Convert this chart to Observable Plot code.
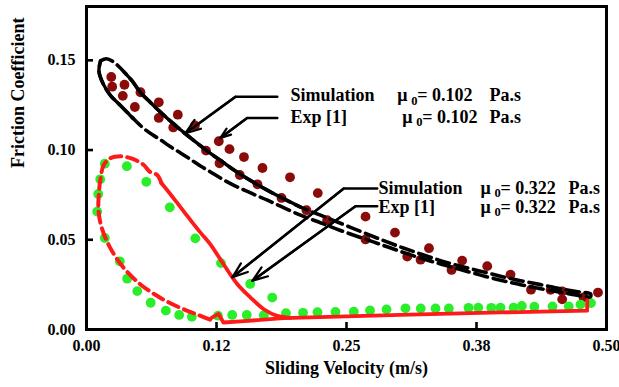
<!DOCTYPE html>
<html><head><meta charset="utf-8">
<script src="https://cdn.jsdelivr.net/npm/d3@7"></script>
<script src="https://cdn.jsdelivr.net/npm/@observablehq/plot@0.6"></script>
<style>body{margin:0;background:#fff}#chart svg{display:block}</style>
</head><body><div id="chart"></div>
<script>
// ---- axes ----
const xTicks = [0, 0.125, 0.25, 0.375, 0.5];
const xTickLabels = ["0.00", "0.12", "0.25", "0.38", "0.50"];
const yTicks = [0, 0.05, 0.10, 0.15];
const yTickLabels = ["0.00", "0.05", "0.10", "0.15"];
const xTitle = "Sliding Velocity (m/s)";
const yTitle = "Friction Coefficient";

// ---- Exp [1], mu0 = 0.102 (dark red dots) ----
const exp102X = [0.0238,0.0247,0.0365,0.0349,0.0519,0.0465,0.0695,0.0695,0.0878,0.0834,0.1042,0.1272,0.1149,0.1375,0.1279,0.1514,0.1692,0.1474,0.1644,0.1957,0.1875,0.2224,0.2115,0.2314,0.2683,0.2683,0.2966,0.3084,0.3212,0.3293,0.3510,0.3612,0.3853,0.4077,0.4274,0.4462,0.4574,0.4574,0.4779,0.4918];
const exp102Y = [0.1407,0.1353,0.1364,0.1302,0.1322,0.1240,0.1266,0.1179,0.1197,0.1126,0.1137,0.1049,0.0997,0.1005,0.0926,0.0961,0.0900,0.0861,0.0809,0.0848,0.0733,0.0760,0.0665,0.0609,0.0629,0.0502,0.0540,0.0406,0.0389,0.0453,0.0332,0.0384,0.0353,0.0306,0.0222,0.0221,0.0213,0.0168,0.0179,0.0206];

// ---- Exp [1], mu0 = 0.322 (green dots) ----
const exp322X = [0.0176,0.0388,0.0132,0.0575,0.0113,0.0103,0.0801,0.0176,0.1046,0.0320,0.1293,0.0391,0.0488,0.0617,0.0763,0.0891,0.1013,0.1264,0.1401,0.1541,0.1574,0.1705,0.1786,0.1918,0.2082,0.2221,0.2394,0.2570,0.2726,0.2885,0.3067,0.3214,0.3356,0.3484,0.3673,0.3767,0.3892,0.3981,0.4106,0.4186,0.4306,0.4481,0.4637,0.4750,0.4851];
const exp322Y = [0.0924,0.0910,0.0837,0.0823,0.0755,0.0657,0.0681,0.0510,0.0508,0.0380,0.0370,0.0283,0.0214,0.0149,0.0105,0.0081,0.0071,0.0077,0.0081,0.0081,0.0254,0.0080,0.0178,0.0091,0.0093,0.0096,0.0098,0.0099,0.0106,0.0112,0.0118,0.0117,0.0117,0.0117,0.0121,0.0122,0.0121,0.0122,0.0122,0.0131,0.0127,0.0129,0.0129,0.0139,0.0147];

// ---- Simulation mu0 = 0.102, dashed loop (upper branch out, lower branch back) ----
const sim102LoopX = [0.0135,0.0192,0.0250,0.0308,0.0365,0.0442,0.0519,0.0615,0.0712,0.0808,0.0904,0.1000,0.1096,0.1192,0.1308,0.1433,0.1577,0.1721,0.1865,0.2058,0.2250,0.2442,0.2635,0.2827,0.3019,0.3212,0.3404,0.3596,0.3788,0.3981,0.4173,0.4365,0.4558,0.4750,0.4846,
  0.4846,0.4750,0.4558,0.4365,0.4173,0.3981,0.3788,0.3596,0.3404,0.3212,0.3019,0.2827,0.2635,0.2442,0.2250,0.2058,0.1865,0.1740,0.1625,0.1529,0.1413,0.1288,0.1192,0.1096,0.1000,0.0904,0.0808,0.0712,0.0635,0.0548,0.0462,0.0385,0.0308,0.0231,0.0163,0.0120,0.0135];
const sim102LoopY = [0.1497,0.1509,0.1495,0.1467,0.1433,0.1383,0.1321,0.1265,0.1211,0.1161,0.1113,0.1068,0.1024,0.0981,0.0934,0.0883,0.0830,0.0782,0.0738,0.0682,0.0637,0.0592,0.0547,0.0502,0.0460,0.0421,0.0384,0.0353,0.0325,0.0297,0.0272,0.0250,0.0227,0.0208,0.0199,
  0.0182,0.0188,0.0208,0.0227,0.0250,0.0275,0.0303,0.0334,0.0365,0.0398,0.0435,0.0474,0.0513,0.0552,0.0595,0.0637,0.0687,0.0721,0.0749,0.0774,0.0805,0.0844,0.0878,0.0911,0.0948,0.0984,0.1018,0.1057,0.1085,0.1122,0.1169,0.1214,0.1259,0.1304,0.1366,0.1439,0.1497];
// solid parts of the same simulation
const sim102UpperX = [0.0365,0.0442,0.0519,0.0615,0.0712,0.0808,0.0904,0.1000,0.1096,0.1192,0.1308,0.1433,0.1577,0.1721,0.1865,0.2058];
const sim102UpperY = [0.1433,0.1383,0.1321,0.1265,0.1211,0.1161,0.1113,0.1068,0.1024,0.0981,0.0934,0.0883,0.0830,0.0782,0.0738,0.0682];
const sim102HookX = [0.0135,0.0120,0.0163,0.0231,0.0308,0.0385,0.0440];
const sim102HookY = [0.1497,0.1439,0.1366,0.1304,0.1259,0.1214,0.1180];

// ---- Simulation mu0 = 0.322 (red) ----
const sim322DashX = [0.0721,0.0680,0.0609,0.0551,0.0481,0.0423,0.0327,0.0231,0.0166,0.0135,0.0118,0.0115,0.0144,0.0224,0.0353,0.0513,0.0705,0.0897,0.1048,0.1221];
const sim322DashY = [0.0815,0.0861,0.0879,0.0917,0.0942,0.0955,0.0965,0.0955,0.0917,0.0842,0.0749,0.0665,0.0571,0.0459,0.0347,0.0254,0.0178,0.0122,0.0087,0.0048];
const sim322SolidX = [0.0721,0.0788,0.0865,0.0942,0.1026,0.1106,0.1186,0.1260,0.1332,0.1449,0.1577,0.1705,0.1834,0.1962];
const sim322SolidY = [0.0815,0.0768,0.0711,0.0653,0.0590,0.0533,0.0478,0.0415,0.0351,0.0254,0.0178,0.0113,0.0076,0.0065];
const sim322BaseX = [0.1202,0.1269,0.1317,0.1481,0.1894,0.3019,0.3981,0.4814,0.4814];
const sim322BaseY = [0.0065,0.0087,0.0039,0.0045,0.0063,0.0081,0.0095,0.0105,0.0163];

// ---- legend annotations ----
const legendNames = ["Simulation", "Exp [1]", "Simulation", "Exp [1]"];
const legendNameX = [0.1962, 0.1962, 0.2808, 0.2808];
const legendRowY = [0.1304, 0.1183, 0.0788, 0.0684];
const muX = [0.2988, 0.3036, 0.3788, 0.3788];
const muValues = ["0.102", "0.102", "0.322", "0.322"];
const unitX = [0.3875, 0.3875, 0.4635, 0.4635];
const unitText = "Pa.s";
// leader polylines: horizontal start, elbow, arrow tip
const leaderX = [[0.1834, 0.1433, 0.0952], [0.1834, 0.1545, 0.1288], [0.2795, 0.2474, 0.1404], [0.2795, 0.2587, 0.1596]];
const leaderY = [[0.1297, 0.1297, 0.1094], [0.1179, 0.1179, 0.1068], [0.0786, 0.0786, 0.0292], [0.0687, 0.0687, 0.0272]];

// ---- build tables ----
const pts = (xs, ys) => xs.map((x, i) => ({x, y: ys[i]}));
const exp102 = pts(exp102X, exp102Y);
const exp322 = pts(exp322X, exp322Y);
const sim102Loop = pts(sim102LoopX, sim102LoopY);
const sim102Upper = pts(sim102UpperX, sim102UpperY);
const sim102Hook = pts(sim102HookX, sim102HookY);
const sim322Dash = pts(sim322DashX, sim322DashY);
const sim322Solid = pts(sim322SolidX, sim322SolidY);
const sim322Base = pts(sim322BaseX, sim322BaseY);
const rows = legendNames.map((name, i) => ({name, nx: legendNameX[i], y: legendRowY[i], mx: muX[i], v: muValues[i], ux: unitX[i]}));
const leaderPts = leaderX.flatMap((xs, k) => xs.map((x, j) => ({k, x, y: leaderY[k][j]})));
const leaderArrows = leaderX.map((xs, k) => ({x1: xs[1], y1: leaderY[k][1], x2: xs[2], y2: leaderY[k][2]}));

const serif = "'Liberation Serif', 'Times New Roman', serif";
const BLACK = "#000", RED = "#ff1a1a", BROWN = "#8b0b0b", GREEN = "#2aee2a";
const innerW = 619 - 86 - 13, innerH = 387 - 6 - 58, TICK = 7;

const chart = Plot.plot({
  width: 619, height: 387,
  marginLeft: 86, marginRight: 13, marginTop: 6, marginBottom: 58,
  style: {fontFamily: serif, fontWeight: "bold", fontSize: "16px", background: "#fff", color: "#000"},
  x: {domain: [0, 0.5], label: null},
  y: {domain: [0, 0.18], label: null},
  marks: [
    // data points
    Plot.dot(exp102, {x: "x", y: "y", r: 4.9, fill: BROWN, stroke: "none"}),
    Plot.dot(exp322, {x: "x", y: "y", r: 4.9, fill: GREEN, stroke: "none"}),
    // simulation curves
    Plot.line(sim102Loop, {x: "x", y: "y", stroke: BLACK, strokeWidth: 3.6, strokeDasharray: "13,6", curve: "catmull-rom"}),
    Plot.line(sim102Upper, {x: "x", y: "y", stroke: BLACK, strokeWidth: 3.4, curve: "catmull-rom"}),
    Plot.line(sim102Hook, {x: "x", y: "y", stroke: BLACK, strokeWidth: 3.4, curve: "catmull-rom"}),
    Plot.line(sim322Dash, {x: "x", y: "y", stroke: RED, strokeWidth: 4, strokeDasharray: "11,6", curve: "catmull-rom"}),
    Plot.line(sim322Solid, {x: "x", y: "y", stroke: RED, strokeWidth: 3.8, curve: "catmull-rom"}),
    Plot.line(sim322Base, {x: "x", y: "y", stroke: RED, strokeWidth: 3.8}),
    // leaders
    Plot.line(leaderPts, {x: "x", y: "y", z: "k", stroke: BLACK, strokeWidth: 2.6}),
    Plot.arrow(leaderArrows, {x1: "x1", y1: "y1", x2: "x2", y2: "y2", stroke: BLACK, strokeWidth: 2.2, headLength: 11, headAngle: 40}),
    // legend texts
    Plot.text(rows, {x: "nx", y: "y", text: "name", textAnchor: "start", fontSize: 18, fill: BLACK}),
    Plot.text(rows, {x: "mx", y: "y", text: () => "\u03bc", textAnchor: "start", fontSize: 18, fill: BLACK}),
    Plot.text(rows, {x: "mx", y: "y", text: () => "0", textAnchor: "start", fontSize: 12.5, dx: 14, dy: 5, fill: BLACK}),
    Plot.text(rows, {x: "mx", y: "y", text: d => "= " + d.v, textAnchor: "start", fontSize: 18, dx: 20, fill: BLACK}),
    Plot.text(rows, {x: "ux", y: "y", text: () => unitText, textAnchor: "start", fontSize: 18, fill: BLACK}),
    // axes: labels outside, ticks inside
    Plot.axisY({ticks: yTicks, tickFormat: d => yTickLabels[yTicks.indexOf(d)], tickSize: 0, tickPadding: 11, fontSize: 16}),
    Plot.axisX({ticks: xTicks, tickFormat: d => xTickLabels[xTicks.indexOf(d)], tickSize: 0, tickPadding: 10, fontSize: 16}),
    Plot.tickX(xTicks, {x: d => d, insetTop: innerH - TICK, stroke: BLACK, strokeWidth: 2.6}),
    Plot.tickY(yTicks, {y: d => d, insetRight: innerW - TICK, stroke: BLACK, strokeWidth: 2.6}),
    Plot.frame({stroke: BLACK, strokeWidth: 3}),
    Plot.text([xTitle], {frameAnchor: "bottom", dy: 44, fontSize: 18, fill: BLACK}),
    Plot.text([yTitle], {frameAnchor: "left", dx: -68, rotate: -90, fontSize: 18, fill: BLACK})
  ]
});
document.getElementById("chart").appendChild(chart);
</script>
</body></html>
